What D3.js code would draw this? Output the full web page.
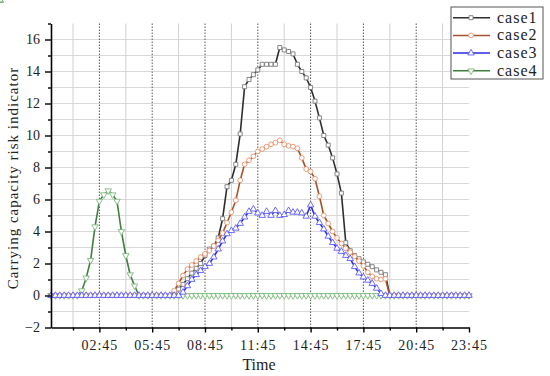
<!DOCTYPE html>
<html>
<head>
<meta charset="utf-8">
<script src="https://cdn.jsdelivr.net/npm/d3@7/dist/d3.min.js"></script>
<style>
  html, body { margin: 0; padding: 0; background: #fff; }
  svg { display: block; }
  svg text { font-family: "Liberation Serif", "DejaVu Serif", serif; }
</style>
</head>
<body>
<svg id="chart" width="550" height="376"></svg>
<script>
// ---- Data (15-minute steps, 00:00 .. 23:45) ----
const seriesNames = ["case1", "case2", "case3", "case4"];

const case1 = [
  0,0,0,0,0,0,0,0,0,0,0,0,0,0,0,0,0,0,0,0,0,0,0,0,0,0,0,0,
  0.15,0.4,0.7,1.05,1.4,1.7,2.0,2.5,2.9,3.1,3.6,4.8,
  6.8,7.2,8.2,10.1,13.05,13.5,13.8,14.1,14.45,14.45,14.45,14.45,
  15.5,15.35,15.25,15.1,14.45,14.0,13.6,13.0,12.15,11.1,10.0,9.4,
  8.6,7.6,6.4,3.3,2.8,2.5,2.3,2.1,1.95,1.8,1.6,1.45,1.3,
  0,0,0,0,0,0,0,0,0,0,0,0,0,0,0,0,0,0,0
];
const case2 = [
  0,0,0,0,0,0,0,0,0,0,0,0,0,0,0,0,0,0,0,0,0,0,0,0,0,0,0,0,
  0.3,0.75,1.25,1.65,1.9,2.15,2.4,2.6,2.8,3.1,3.45,3.9,
  4.55,5.2,5.95,7.2,8.2,8.45,8.7,9.0,9.15,9.3,9.45,9.55,
  9.7,9.45,9.35,9.3,9.2,8.6,7.9,7.75,7.3,6.2,5.0,4.5,
  4.0,3.6,3.25,2.95,2.7,2.45,2.15,1.85,1.45,1.2,1.05,1.0,1.05,
  0,0,0,0,0,0,0,0,0,0,0,0,0,0,0,0,0,0,0
];
const case3 = [
  0,0,0,0,0,0,0,0,0,0,0,0,0,0,0,0,0,0,0,0,0,0,0,0,0,0,0,0,0,0,
  0.2,0.6,1.0,1.3,1.55,1.8,2.0,2.4,2.9,3.4,
  3.85,4.05,4.2,4.5,4.9,5.25,5.4,5.15,5.0,5.25,5.0,5.3,
  5.0,5.05,5.3,5.2,5.2,5.15,4.95,5.65,4.95,4.55,4.15,3.7,
  3.3,2.95,2.75,2.5,2.3,1.8,1.4,1.15,0.95,0.75,0.45,0.12,
  0,0,0,0,0,0,0,0,0,0,0,0,0,0,0,0,0,0,0,0
];
const case4 = [
  0,0,0,0,0,0,0,
  0.3,1.1,2.2,4.3,5.9,6.3,6.55,6.3,5.9,4.0,2.5,1.3,0.6,
  0,0,0,0,0,0,0,0,0,0,0,0,0,0,0,0,0,0,0,0,0,0,0,0,0,0,0,0,0,0,
  0,0,0,0,0,0,0,0,0,0,0,0,0,0,0,0,0,0,0,0,0,0,0,0,0,0,0,0,0,0,
  0,0,0,0,0,0,0,0,0,0,0,0,0,0,0,0,0,0,0,0,0,0,0,0,0,0
];

const xTickValues = [2.75, 5.75, 8.75, 11.75, 14.75, 17.75, 20.75, 23.75];
const xTickLabels = ["02:45", "05:45", "08:45", "11:45", "14:45", "17:45", "20:45", "23:45"];
const xMinorValues = [1.25, 4.25, 7.25, 10.25, 13.25, 16.25, 19.25, 22.25];
const yTickValues = [-2, 0, 2, 4, 6, 8, 10, 12, 14, 16];
const yMinorValues = [-1, 1, 3, 5, 7, 9, 11, 13, 15, 17];

// ---- Setup ----
const svg = d3.select("#chart");
const serif = '"Liberation Serif", "DejaVu Serif", serif';

const x = d3.scaleLinear().domain([0, 23.75]).range([51, 469]);
const y = d3.scaleLinear().domain([-2, 17]).range([327.5, 23.5]);

const times = d3.range(case1.length).map(i => i * 0.25);

// Grid: horizontal lines at every integer
const gridH = d3.range(-1, 17);
svg.append("g").selectAll("line").data(gridH).join("line")
  .attr("x1", x(0)).attr("x2", x(23.75))
  .attr("y1", d => y(d)).attr("y2", d => y(d))
  .attr("stroke", "#d9d9d9").attr("stroke-width", 1);

// Vertical grid: minor solid light, major dotted dark
svg.append("g").selectAll("line").data(xMinorValues).join("line")
  .attr("x1", d => x(d)).attr("x2", d => x(d))
  .attr("y1", y(17)).attr("y2", y(-2))
  .attr("stroke", "#d0d0d0").attr("stroke-width", 1);
svg.append("g").selectAll("line").data(xTickValues.filter(v => v < 23.75)).join("line")
  .attr("x1", d => x(d)).attr("x2", d => x(d))
  .attr("y1", y(17)).attr("y2", y(-2))
  .attr("stroke", "#555").attr("stroke-width", 1)
  .attr("stroke-dasharray", "1.5,1.5");

// ---- Series ----
const styles = {
  case1: { line: "#2e2e2e", mark: "#7a7a7a", sym: d3.symbolSquare, size: 16, rot: 0 },
  case2: { line: "#a4542c", mark: "#e8926c", sym: d3.symbolCircle, size: 18, rot: 0 },
  case3: { line: "#2a2ae6", mark: "#5c5cff", sym: d3.symbolTriangle, size: 18, rot: 0 },
  case4: { line: "#3f7f3f", mark: "#79b879", sym: d3.symbolTriangle, size: 18, rot: 180 }
};
const dataMap = { case1, case2, case3, case4 };
const drawOrder = ["case4", "case1", "case2", "case3"];

const lineGen = d3.line().x((d, i) => x(times[i])).y(d => y(d));

drawOrder.forEach(name => {
  const st = styles[name];
  const vals = dataMap[name];
  const g = svg.append("g");
  g.append("path").datum(vals)
    .attr("d", lineGen)
    .attr("fill", "none")
    .attr("stroke", st.line)
    .attr("stroke-width", 1.6)
    .attr("stroke-linejoin", "round");
  g.selectAll("path.m").data(vals).join("path")
    .attr("class", "m")
    .attr("d", d3.symbol().type(st.sym).size(st.size))
    .attr("transform", (d, i) => `translate(${x(times[i])},${y(d)}) rotate(${st.rot})`)
    .attr("fill", "#fff")
    .attr("stroke", st.mark)
    .attr("stroke-width", 0.9);
});

// ---- Axes ----
const yAxis = d3.axisLeft(y).tickValues(yTickValues).tickSize(6).tickSizeOuter(0).tickPadding(5)
  .tickFormat(d3.format("d"));
const yAxisMinor = d3.axisLeft(y).tickValues(yMinorValues).tickSize(3).tickSizeOuter(0).tickFormat("");
const gy = svg.append("g").attr("transform", `translate(${x(0)},0)`).call(yAxis);
const gy2 = svg.append("g").attr("transform", `translate(${x(0)},0)`).call(yAxisMinor);
gy2.select(".domain").remove();

const xAxis = d3.axisBottom(x).tickValues(xTickValues).tickSize(5).tickSizeOuter(0).tickPadding(8)
  .tickFormat((d, i) => xTickLabels[i]);
const xAxisMinor = d3.axisBottom(x).tickValues(xMinorValues).tickSize(3).tickSizeOuter(0).tickFormat("");
const gx = svg.append("g").attr("transform", `translate(0,${y(-2)})`).call(xAxis);
const gx2 = svg.append("g").attr("transform", `translate(0,${y(-2)})`).call(xAxisMinor);
gx2.select(".domain").remove();

[gx, gy, gx2, gy2].forEach(g => {
  g.attr("font-family", null);
  g.selectAll(".domain").attr("stroke", "#000").attr("stroke-width", 1.6);
  g.selectAll(".tick line").attr("stroke", "#000").attr("stroke-width", 1.4);
});
gy.selectAll("text").style("font-family", serif).style("font-size", "14px").attr("fill", "#222");
gx.selectAll("text").style("font-family", serif).style("font-size", "14px").attr("fill", "#222")
  .style("letter-spacing", "1px");

// Axis titles
svg.append("text")
  .attr("transform", `translate(18,${178}) rotate(-90)`)
  .attr("text-anchor", "middle")
  .style("font-family", serif).style("font-size", "15px").style("letter-spacing", "1px")
  .attr("fill", "#222")
  .text("Carrying capacity risk indicator");
svg.append("text")
  .attr("x", 259).attr("y", 370)
  .attr("text-anchor", "middle")
  .style("font-family", serif).style("font-size", "16px")
  .attr("fill", "#222")
  .text("Time");

// ---- Legend ----
const lg = svg.append("g");
lg.append("rect").attr("x", 451).attr("y", 7).attr("width", 92).attr("height", 72)
  .attr("fill", "#fff").attr("stroke", "#555").attr("stroke-width", 1);
seriesNames.forEach((name, i) => {
  const st = styles[name];
  const cy = 17.7 + i * 17.7;
  lg.append("line").attr("x1", 453).attr("x2", 490).attr("y1", cy).attr("y2", cy)
    .attr("stroke", st.line).attr("stroke-width", 1.5);
  lg.append("path").attr("d", d3.symbol().type(st.sym).size(st.size)())
    .attr("transform", `translate(471,${cy}) rotate(${st.rot})`)
    .attr("fill", "#fff").attr("stroke", st.mark).attr("stroke-width", 0.9);
  lg.append("text").attr("x", 497).attr("y", cy + 5)
    .style("font-family", serif).style("font-size", "16px").style("letter-spacing", "1px")
    .attr("fill", "#222").text(name);
});
</script>
</body>
</html>
